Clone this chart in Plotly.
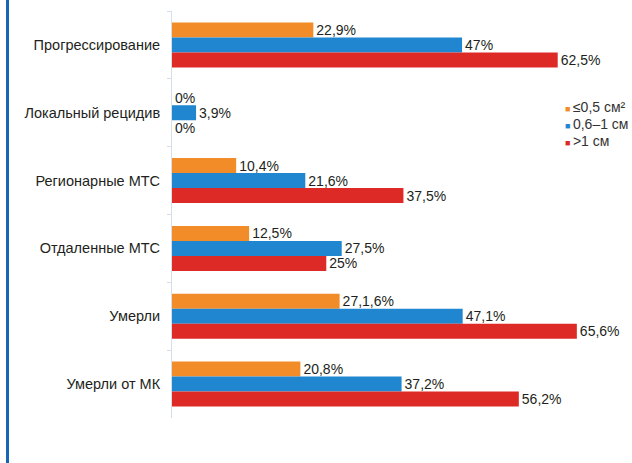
import plotly.graph_objects as go

# Outcome categories (top to bottom)
categories = [
    "Прогрессирование",
    "Локальный рецидив",
    "Регионарные МТС",
    "Отдаленные МТС",
    "Умерли",
    "Умерли от МК",
]

# Percentages per tumour-size group
small_vals = [22.9, 0, 10.4, 12.5, 27.16, 20.8]
medium_vals = [47, 3.9, 21.6, 27.5, 47.1, 37.2]
large_vals = [62.5, 0, 37.5, 25, 65.6, 56.2]

small_labels = ["22,9%", "0%", "10,4%", "12,5%", "27,1,6%", "20,8%"]
medium_labels = ["47%", "3,9%", "21,6%", "27,5%", "47,1%", "37,2%"]
large_labels = ["62,5%", "0%", "37,5%", "25%", "65,6%", "56,2%"]

series_names = ["≤0,5 см²", "0,6–1 см", ">1 см"]
colors = ["#F28C28", "#1F86CF", "#DE2A26"]

W, H = 632, 463
M_L, M_R, M_T, M_B = 172, 28, 11, 45
X_MAX = 70
FONT = "Liberation Sans, Arial, sans-serif"
TEXT_COLOR = "#231f20"

fig = go.Figure()
for vals, labels, color, name in zip(
    [small_vals, medium_vals, large_vals],
    [small_labels, medium_labels, large_labels],
    colors,
    series_names,
):
    fig.add_trace(
        go.Bar(
            y=categories,
            x=vals,
            orientation="h",
            name=name,
            marker=dict(color=color, line=dict(width=0)),
            text=labels,
            textposition="outside",
            constraintext="none",
            textfont=dict(family=FONT, size=14, color=TEXT_COLOR),
            cliponaxis=False,
            showlegend=False,
        )
    )

# Compact legend: colored square glyph followed by the series name
legend_x = 563
legend_y0 = 107
legend_step = 17
for i, (name, color) in enumerate(zip(series_names, colors)):
    fig.add_annotation(
        xref="paper", yref="paper",
        x=(legend_x - M_L) / (W - M_L - M_R),
        y=1 - (legend_y0 + i * legend_step - M_T) / (H - M_T - M_B),
        xanchor="left", yanchor="middle",
        text=f"<span style='color:{color};font-size:9px'>■ </span>{name}",
        showarrow=False,
        font=dict(family=FONT, size=14, color="#333333"),
    )

# Blue frame rule on the left edge of the panel
fig.add_shape(
    type="line", xref="paper", yref="paper",
    x0=(7.5 - M_L) / (W - M_L - M_R), x1=(7.5 - M_L) / (W - M_L - M_R),
    y0=-M_B / (H - M_T - M_B) - 0.01, y1=1 + M_T / (H - M_T - M_B) + 0.01,
    line=dict(color="#1566B8", width=3),
)

fig.update_layout(
    width=W, height=H,
    margin=dict(l=M_L, r=M_R, t=M_T, b=M_B),
    barmode="group",
    bargap=0.336,
    bargroupgap=0,
    plot_bgcolor="white",
    paper_bgcolor="white",
    font=dict(family=FONT, size=14, color=TEXT_COLOR),
    xaxis=dict(range=[0, X_MAX], visible=False),
    yaxis=dict(
        autorange="reversed",
        showline=True, linecolor="#d3dfea", linewidth=1,
        ticks="outside", tickson="boundaries", ticklen=4, tickcolor="#d3dfea",
        ticklabelstandoff=8,
        showgrid=False, zeroline=False,
        tickfont=dict(family=FONT, size=14.5, color=TEXT_COLOR),
    ),
)

fig.write_html("out.html")
